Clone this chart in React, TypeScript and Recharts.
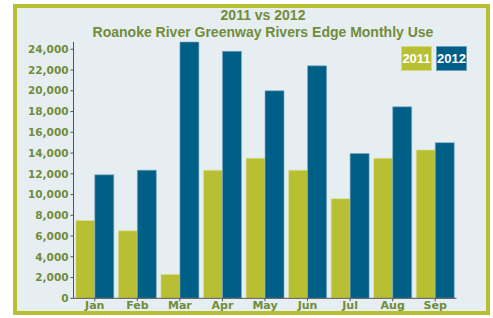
import React from "react";
import { BarChart, Bar, XAxis, YAxis } from "recharts";

const months = ["Jan", "Feb", "Mar", "Apr", "May", "Jun", "Jul", "Aug", "Sep"];
const use2011 = [7500, 6500, 2300, 12350, 13500, 12350, 9600, 13500, 14300];
const use2012 = [11900, 12350, 24700, 23800, 20000, 22400, 13950, 18450, 15000];
const yTicks = [0, 2000, 4000, 6000, 8000, 10000, 12000, 14000, 16000, 18000, 20000, 22000, 24000];
const titleLine1 = "2011 vs 2012";
const titleLine2 = "Roanoke River Greenway Rivers Edge Monthly Use";
const seriesNames = ["2011", "2012"];

const data = months.map((m, i) => ({ month: m, y2011: use2011[i], y2012: use2012[i] }));

const OLIVE = "#b9bf33";
const BLUE = "#005f87";
const TEXT = "#718c3a";
const FONT = "'DejaVu Sans', Verdana, sans-serif";

const fmt = (v: number) => v.toLocaleString("en-US");

const boxStyle = (bg: string, edge: string): React.CSSProperties => ({
  width: 31,
  height: 25,
  background: bg,
  color: "#fff",
  fontFamily: "'Liberation Sans', Arial, sans-serif",
  fontWeight: 700,
  fontSize: 13,
  display: "flex",
  alignItems: "center",
  justifyContent: "center",
  boxSizing: "border-box",
  border: `1px solid ${edge}`,
});

export default function App() {
  return (
    <div style={{ position: "absolute", left: 0, top: 0, width: 493, height: 318, background: "#ffffff" }}>
      <div
        style={{
          position: "absolute",
          left: 13,
          top: 4,
          width: 477,
          height: 311,
          boxSizing: "border-box",
          border: `4px solid ${OLIVE}`,
          background: "#e7eef1",
        }}
      />
      <div style={{ position: "absolute", left: 0, top: 0, width: 493, height: 318 }}>
        <BarChart
          width={493}
          height={318}
          data={data}
          margin={{ top: 42, right: 36.5, left: 0, bottom: 0 }}
          barCategoryGap={2.3}
          barGap={0}
        >
          <text x={263} y={20} textAnchor="middle" fill={TEXT} fontFamily="'Liberation Sans', Arial, sans-serif" fontWeight={700} fontSize={14}>
            {titleLine1}
          </text>
          <text x={263} y={37} textAnchor="middle" fill={TEXT} fontFamily="'Liberation Sans', Arial, sans-serif" fontWeight={700} fontSize={14}>
            {titleLine2}
          </text>
          <XAxis
            dataKey="month"
            height={19.7}
            tickSize={3}
            tickMargin={0}
            axisLine={{ stroke: "#555", strokeWidth: 1 }}
            tickLine={{ stroke: "#555" }}
            tick={{ fill: TEXT, fontSize: 11, fontWeight: 700, fontFamily: FONT }}
            interval={0}
          />
          <YAxis
            width={73.5}
            domain={[0, 24700]}
            ticks={yTicks}
            tickFormatter={fmt}
            tickSize={3}
            tickMargin={2}
            axisLine={{ stroke: "#555", strokeWidth: 1 }}
            tickLine={{ stroke: "#555" }}
            tick={{ fill: TEXT, fontSize: 10.5, fontWeight: 700, fontFamily: FONT }}
            interval={0}
          />
          <Bar dataKey="y2011" name={seriesNames[0]} fill={OLIVE} stroke="#dfe39a" strokeWidth={0.6} isAnimationActive={false} />
          <Bar dataKey="y2012" name={seriesNames[1]} fill={BLUE} stroke="#7fa8c2" strokeWidth={0.6} isAnimationActive={false} />
        </BarChart>
      </div>
      <div style={{ position: "absolute", left: 401, top: 46, display: "flex", gap: 4 }}>
        <div style={boxStyle(OLIVE, "#d6dc7a")}>{seriesNames[0]}</div>
        <div style={boxStyle(BLUE, "#6f9fbd")}>{seriesNames[1]}</div>
      </div>
    </div>
  );
}
